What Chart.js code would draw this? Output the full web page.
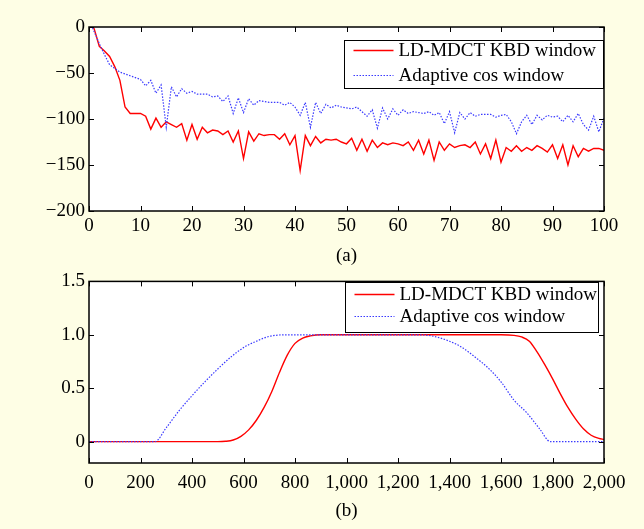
<!DOCTYPE html>
<html lang="en">
<head>
<meta charset="UTF-8">
<title>LD-MDCT KBD window vs adaptive cos window</title>
<script src="https://cdn.jsdelivr.net/npm/chart.js"></script>
<style>
  body { margin: 0; background: #fefee5; }
  .panel { position: absolute; left: 0; }
  #top { top: 0; }
  #bottom { top: 266px; }
</style>
</head>
<body>
<div class="panel" id="top"><canvas id="specChart" width="644" height="266"></canvas></div>
<div class="panel" id="bottom"><canvas id="winChart" width="644" height="263"></canvas></div>
<script>
// (a) frequency response, dB
const bins = [];
for (let i = 0; i <= 100; i++) bins.push(i);
const kbdSpec = [
  8, -2, -21, -26, -32, -43, -58, -87, -94, -94,
  -94, -97, -111, -99, -109, -103, -106, -109, -105, -123,
  -106, -122, -109, -115, -112, -113, -117, -113, -125, -113,
  -143, -114, -124, -116, -118, -117, -117, -122, -116, -128,
  -118, -156, -118, -129, -119, -126, -122, -123, -122, -125,
  -127, -121, -134, -122, -135, -123, -131, -126, -128, -126,
  -127, -129, -125, -134, -123, -138, -123, -145, -125, -134,
  -127, -131, -129, -128, -131, -125, -138, -127, -143, -123,
  -147, -131, -135, -129, -135, -131, -134, -129, -132, -136,
  -128, -143, -128, -150, -129, -141, -132, -135, -132, -132,
  -134
];
const cosSpec = [
  8, -5, -18, -30, -41, -45, -49, -51, -53, -55,
  -57, -64, -58, -72, -63, -109, -65, -76, -67, -72,
  -70, -73, -73, -73, -76, -75, -81, -75, -94, -77,
  -93, -78, -85, -80, -81, -82, -82, -82, -85, -82,
  -87, -96, -82, -109, -82, -94, -84, -88, -85, -87,
  -88, -89, -87, -92, -97, -90, -110, -88, -100, -89,
  -96, -90, -94, -92, -93, -94, -92, -96, -93, -105,
  -92, -115, -93, -100, -93, -97, -95, -95, -95, -98,
  -96, -95, -103, -116, -103, -96, -106, -96, -101, -96,
  -98, -97, -103, -96, -103, -94, -106, -112, -97, -114,
  -99
];
const specXTicks = [0, 10, 20, 30, 40, 50, 60, 70, 80, 90, 100];
const specYTicks = [-200, -150, -100, -50, 0];

// (b) window shapes
const kbdWinX = [0, 500, 530, 560, 590, 620, 650, 680, 710, 740, 770, 800, 830, 860, 900,
  1600, 1650, 1680, 1710, 1740, 1770, 1800, 1830, 1860, 1890, 1920, 1950, 1980, 2000];
const kbdWinY = [0, 0, 0.003, 0.015, 0.05, 0.11, 0.2, 0.32, 0.47, 0.65, 0.81, 0.92, 0.97, 0.99, 1,
  1, 0.995, 0.98, 0.94, 0.84, 0.72, 0.59, 0.45, 0.32, 0.21, 0.12, 0.06, 0.03, 0.02];
const cosWinX = [0, 256, 300, 350, 400, 450, 500, 550, 600, 650, 700, 768,
  1280, 1330, 1400, 1450, 1500, 1550, 1600, 1650, 1700, 1750, 1792, 2000];
const cosWinY = [0, 0, 0.13, 0.29, 0.43, 0.56, 0.68, 0.79, 0.88, 0.94, 0.985, 1,
  1, 0.99, 0.94, 0.88, 0.79, 0.69, 0.56, 0.39, 0.27, 0.12, 0, 0];
const winXTicks = [0, 200, 400, 600, 800, 1000, 1200, 1400, 1600, 1800, 2000];
const winYTicks = [0, 0.5, 1.0, 1.5];

const labels = ['LD-MDCT KBD window', 'Adaptive cos window'];

const serif = 'Liberation Serif, Times New Roman, serif';
const tickFont = { family: serif, size: 19 };

// white plot area, black frame and inward ticks on all four sides
const frameTicks = {
  id: 'frameTicks',
  beforeDatasetsDraw(chart) {
    const { ctx, chartArea: a } = chart;
    ctx.save();
    ctx.fillStyle = '#fff';
    ctx.fillRect(a.left, a.top, a.width, a.height);
    ctx.restore();
  },
  afterDatasetsDraw(chart) {
    const { ctx, chartArea: a, scales } = chart;
    ctx.save();
    ctx.strokeStyle = '#000';
    ctx.lineWidth = 1;
    ctx.beginPath();
    scales.x.ticks.forEach((t, i) => {
      const px = Math.round(scales.x.getPixelForTick(i)) + 0.5;
      ctx.moveTo(px, a.bottom); ctx.lineTo(px, a.bottom - 5);
      ctx.moveTo(px, a.top); ctx.lineTo(px, a.top + 5);
    });
    scales.y.ticks.forEach((t, i) => {
      const py = Math.round(scales.y.getPixelForTick(i)) + 0.5;
      ctx.moveTo(a.left, py); ctx.lineTo(a.left + 5, py);
      ctx.moveTo(a.right, py); ctx.lineTo(a.right - 5, py);
    });
    ctx.stroke();
    ctx.lineWidth = 1.5;
    ctx.strokeRect(a.left, a.top, a.width, a.height);
    ctx.restore();
  }
};

// boxed legend inside the plot, top right
const boxLegend = {
  id: 'boxLegend',
  afterDatasetsDraw(chart, args, o) {
    const { ctx, chartArea: a } = chart;
    const x0 = Math.round(a.right - o.right - o.width) + 0.5;
    const y0 = Math.round(a.top + o.top) + 0.5;
    ctx.save();
    ctx.fillStyle = '#fff';
    ctx.fillRect(x0, y0, o.width, o.height);
    ctx.strokeStyle = '#000';
    ctx.lineWidth = 1;
    ctx.strokeRect(x0, y0, o.width, o.height);
    ctx.font = o.fontSize + 'px ' + serif;
    ctx.textBaseline = 'middle';
    chart.data.datasets.forEach((ds, i) => {
      const y = y0 + o.firstRow + i * o.rowGap;
      ctx.strokeStyle = ds.borderColor;
      ctx.lineWidth = ds.borderWidth;
      ctx.setLineDash(ds.borderDash || []);
      ctx.beginPath();
      ctx.moveTo(x0 + 9, y);
      ctx.lineTo(x0 + 49, y);
      ctx.stroke();
      ctx.setLineDash([]);
      ctx.fillStyle = '#000';
      ctx.fillText(ds.label, x0 + 54, y + 1);
    });
    ctx.restore();
  }
};

function fmtMinus(v) {
  return v < 0 ? '\u2212' + Math.abs(v) : String(v);
}

function makeScales(xOpt, yOpt) {
  return {
    x: {
      type: 'linear',
      min: xOpt.min, max: xOpt.max,
      afterBuildTicks: s => { s.ticks = xOpt.ticks.map(v => ({ value: v })); },
      afterFit: s => { s.height = xOpt.height; },
      grid: { display: false, drawTicks: false },
      border: { display: false },
      ticks: { font: tickFont, color: '#000', padding: xOpt.tickPad, maxRotation: 0, autoSkip: false, callback: xOpt.fmt },
      title: { display: true, text: xOpt.title, font: tickFont, color: '#000', padding: { top: 0, bottom: xOpt.titlePad } }
    },
    y: {
      min: yOpt.min, max: yOpt.max,
      afterBuildTicks: s => { s.ticks = yOpt.ticks.map(v => ({ value: v })); },
      afterFit: s => { s.width = 89; },
      grid: { display: false, drawTicks: false },
      border: { display: false },
      ticks: { font: tickFont, color: '#000', padding: 4, callback: yOpt.fmt }
    }
  };
}

new Chart(document.getElementById('specChart'), {
  type: 'line',
  data: {
    datasets: [
      {
        label: labels[0],
        data: bins.map((b, i) => ({ x: b, y: kbdSpec[i] })),
        borderColor: '#ff0000', borderWidth: 1.4, pointRadius: 0, tension: 0, order: 1
      },
      {
        label: labels[1],
        data: bins.map((b, i) => ({ x: b, y: cosSpec[i] })),
        borderColor: '#3a3aff', borderWidth: 1.2, borderDash: [1.5, 1.5], pointRadius: 0, tension: 0, order: 0
      }
    ]
  },
  options: {
    responsive: false,
    animation: false,
    layout: { padding: { top: 27, right: 40, left: 0, bottom: 0 } },
    plugins: {
      legend: { display: false },
      tooltip: { enabled: false },
      boxLegend: { right: 1, top: 13, width: 259, height: 48, firstRow: 10, rowGap: 25, fontSize: 19 }
    },
    scales: makeScales(
      { min: 0, max: 100, ticks: specXTicks, height: 55, tickPad: 4, title: '(a)', titlePad: -1, fmt: v => String(v) },
      { min: -200, max: 0, ticks: specYTicks, fmt: fmtMinus }
    )
  },
  plugins: [frameTicks, boxLegend]
});

new Chart(document.getElementById('winChart'), {
  type: 'line',
  data: {
    datasets: [
      {
        label: labels[0],
        data: kbdWinX.map((x, i) => ({ x: x, y: kbdWinY[i] })),
        borderColor: '#ff0000', borderWidth: 1.4, pointRadius: 0, cubicInterpolationMode: 'monotone', order: 1
      },
      {
        label: labels[1],
        data: cosWinX.map((x, i) => ({ x: x, y: cosWinY[i] })),
        borderColor: '#3a3aff', borderWidth: 1.2, borderDash: [1.5, 1.5], pointRadius: 0, cubicInterpolationMode: 'monotone', order: 0
      }
    ]
  },
  options: {
    responsive: false,
    animation: false,
    layout: { padding: { top: 15, right: 40, left: 0, bottom: 0 } },
    plugins: {
      legend: { display: false },
      tooltip: { enabled: false },
      boxLegend: { right: 6, top: 1, width: 253, height: 50, firstRow: 12, rowGap: 22, fontSize: 19 }
    },
    scales: makeScales(
      { min: 0, max: 2000, ticks: winXTicks, height: 66, tickPad: 9, title: '(b)', titlePad: 7, fmt: v => v.toLocaleString('en-US') },
      { min: -0.2, max: 1.5, ticks: winYTicks, fmt: v => (v === 0 ? '0' : v.toFixed(1)) }
    )
  },
  plugins: [frameTicks, boxLegend]
});
</script>
</body>
</html>
